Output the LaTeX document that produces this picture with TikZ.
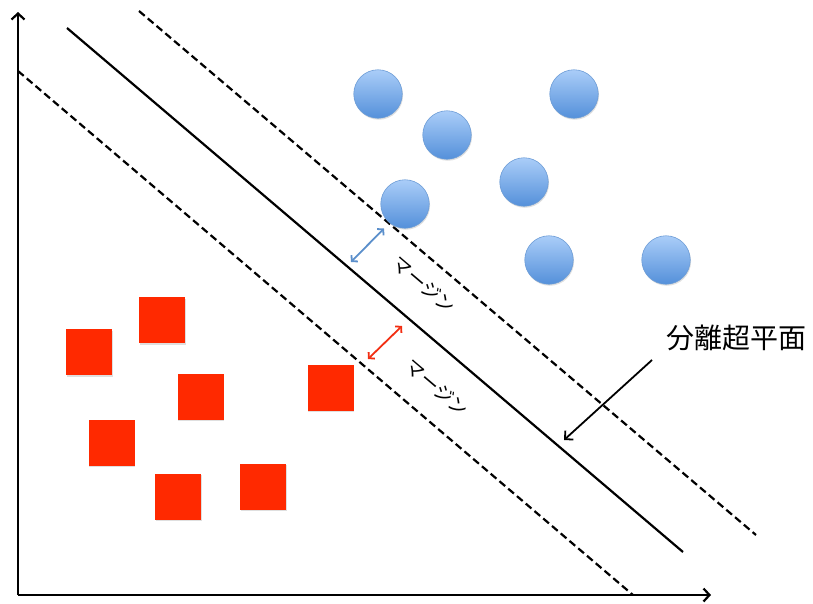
\documentclass[tikz,border=0pt]{standalone}
\usepackage{fontspec}
\newfontfamily\jpfont{Noto Sans CJK JP}
\usetikzlibrary{arrows.meta,shadows}

\definecolor{ptred}{HTML}{FF2900}
\definecolor{ptbluetop}{HTML}{AACDF8}
\definecolor{ptbluebot}{HTML}{5490DA}
\definecolor{ptblueedge}{HTML}{6C9CD6}
\definecolor{gapblue}{HTML}{5B8FCB}
\definecolor{gapred}{HTML}{F22E12}

\tikzset{
  axis/.style={line width=2.6pt, -{Straight Barb[length=6pt,width=13pt,line width=2.2pt]}},
  hyper/.style={line width=2.2pt},
  marginline/.style={line width=2.2pt, dash pattern=on 7.5pt off 4pt},
  redpt/.style={rectangle, fill=ptred, minimum size=46pt, inner sep=0pt,
    drop shadow={shadow xshift=0.8pt, shadow yshift=-1.5pt, opacity=0.25}},
  bluept/.style={circle, draw=ptblueedge, line width=0.6pt, top color=ptbluetop,
    bottom color=ptbluebot, minimum size=48.5pt, inner sep=0pt,
    drop shadow={shadow xshift=0.8pt, shadow yshift=-1.5pt, opacity=0.25}},
  gap/.style={line width=1.8pt, {Straight Barb[length=4pt,width=9pt]}-{Straight Barb[length=4pt,width=9pt]}},
  gaplabel/.style={font=\jpfont\fontsize{19}{19}\selectfont, rotate=-40.4, inner sep=0pt},
  pointer/.style={line width=1.8pt, -{Straight Barb[length=6pt,width=12pt]}}
}

\begin{document}
\begin{tikzpicture}[x=1pt,y=-1pt]
\useasboundingbox (0,0) rectangle (813,603);

% axes
\coordinate (O) at (18,595);
\coordinate (ytip) at (18,12);
\coordinate (xtip) at (711,595);
\draw[axis] (O) -- (ytip);
\draw[axis] (O) -- (xtip);

% separating hyperplane and margin boundaries
\coordinate (h1) at (67,28);
\coordinate (h2) at (683,552);
\coordinate (u1) at (139,11);
\coordinate (u2) at (756,535);
\coordinate (l1) at (18,71);
\coordinate (l2) at (633,595);
\draw[hyper] (h1) -- (h2);
\draw[marginline] (u1) -- (u2);
\draw[marginline] (l1) -- (l2);

% class +1 samples
\node[bluept] (b1) at (378,94) {};
\node[bluept] (b2) at (574,94) {};
\node[bluept] (b3) at (447,135) {};
\node[bluept] (b4) at (524,182) {};
\node[bluept] (b5) at (405,204) {};
\node[bluept] (b6) at (549,260) {};
\node[bluept] (b7) at (666,260) {};

% class -1 samples
\node[redpt] (r1) at (162,320) {};
\node[redpt] (r2) at (89,352) {};
\node[redpt] (r3) at (200.5,396.5) {};
\node[redpt] (r4) at (330.5,387.5) {};
\node[redpt] (r5) at (111.5,442.5) {};
\node[redpt] (r6) at (178,496.5) {};
\node[redpt] (r7) at (263,486.5) {};

% margin widths
\coordinate (ga) at (351,262);
\coordinate (gb) at (384,228.5);
\draw[gap, gapblue] (ga) -- (gb);
\coordinate (gc) at (368,359);
\coordinate (gd) at (402,326);
\draw[gap, gapred] (gc) -- (gd);

\node[gaplabel] (m1) at (424,285) {マージン};
\node[gaplabel] (m2) at (437,388) {マージン};

% hyperplane label
\node[font=\jpfont\fontsize{28}{28}\selectfont, inner sep=0pt] (hp) at (736,338) {分離超平面};
\coordinate (pa) at (652,360);
\coordinate (pb) at (564,440);
\draw[pointer] (pa) -- (pb);
\end{tikzpicture}
\end{document}
